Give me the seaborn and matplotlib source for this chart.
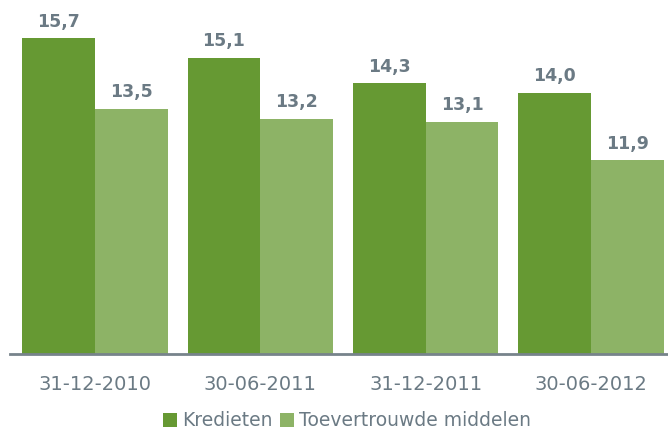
import matplotlib
matplotlib.use("Agg")
import matplotlib.pyplot as plt
import seaborn as sns
import pandas as pd
from matplotlib.patches import Patch

categories = ["31-12-2010", "30-06-2011", "31-12-2011", "30-06-2012"]
series_names = ["Kredieten", "Toevertrouwde middelen"]
kredieten = [15.7, 15.1, 14.3, 14.0]
toevertrouwd = [13.5, 13.2, 13.1, 11.9]
colors = ["#669933", "#8db366"]
text_color = "#6b7a84"

df = pd.DataFrame({
    "cat": categories * 2,
    "serie": [series_names[0]] * 4 + [series_names[1]] * 4,
    "val": kredieten + toevertrouwd,
})

sns.set_theme(style="white")
plt.rcParams['font.family'] = ['DejaVu Sans']

fig = plt.figure(figsize=(6.68, 4.32), dpi=100)
ax = fig.add_axes([10/668, 78/432, 658/668, 354/432])

sns.barplot(data=df, x="cat", y="val", hue="serie", palette=colors,
            width=0.88, ax=ax, legend=False, saturation=1, linewidth=0)

ax.set_ylim(5.85, 16.9)
ax.set_xlim(-0.514, 3.466)

for cont in ax.containers:
    labels = [f"{v:.1f}".replace(".", ",") for v in cont.datavalues]
    ax.bar_label(cont, labels=labels, padding=5.5, fontsize=12.5,
                 fontweight="bold", color=text_color)

for s in ["top", "right", "left"]:
    ax.spines[s].set_visible(False)
ax.spines["bottom"].set_color("#77838b")
ax.spines["bottom"].set_linewidth(2)
ax.set_yticks([])
ax.set_xlabel("")
ax.set_ylabel("")
ax.tick_params(axis="x", length=0, pad=15, labelsize=14, labelcolor=text_color)

handles = [Patch(facecolor=c, edgecolor="none") for c in colors]
fig.legend(handles, series_names, loc="center", bbox_to_anchor=(347/668, 1 - 421/432),
           ncol=2, frameon=False, fontsize=13.5, handlelength=0.75, handleheight=0.75,
           handletextpad=0.25, columnspacing=0.4, labelcolor=text_color,
           borderpad=0, borderaxespad=0)

fig.savefig("out.png", dpi=100)
